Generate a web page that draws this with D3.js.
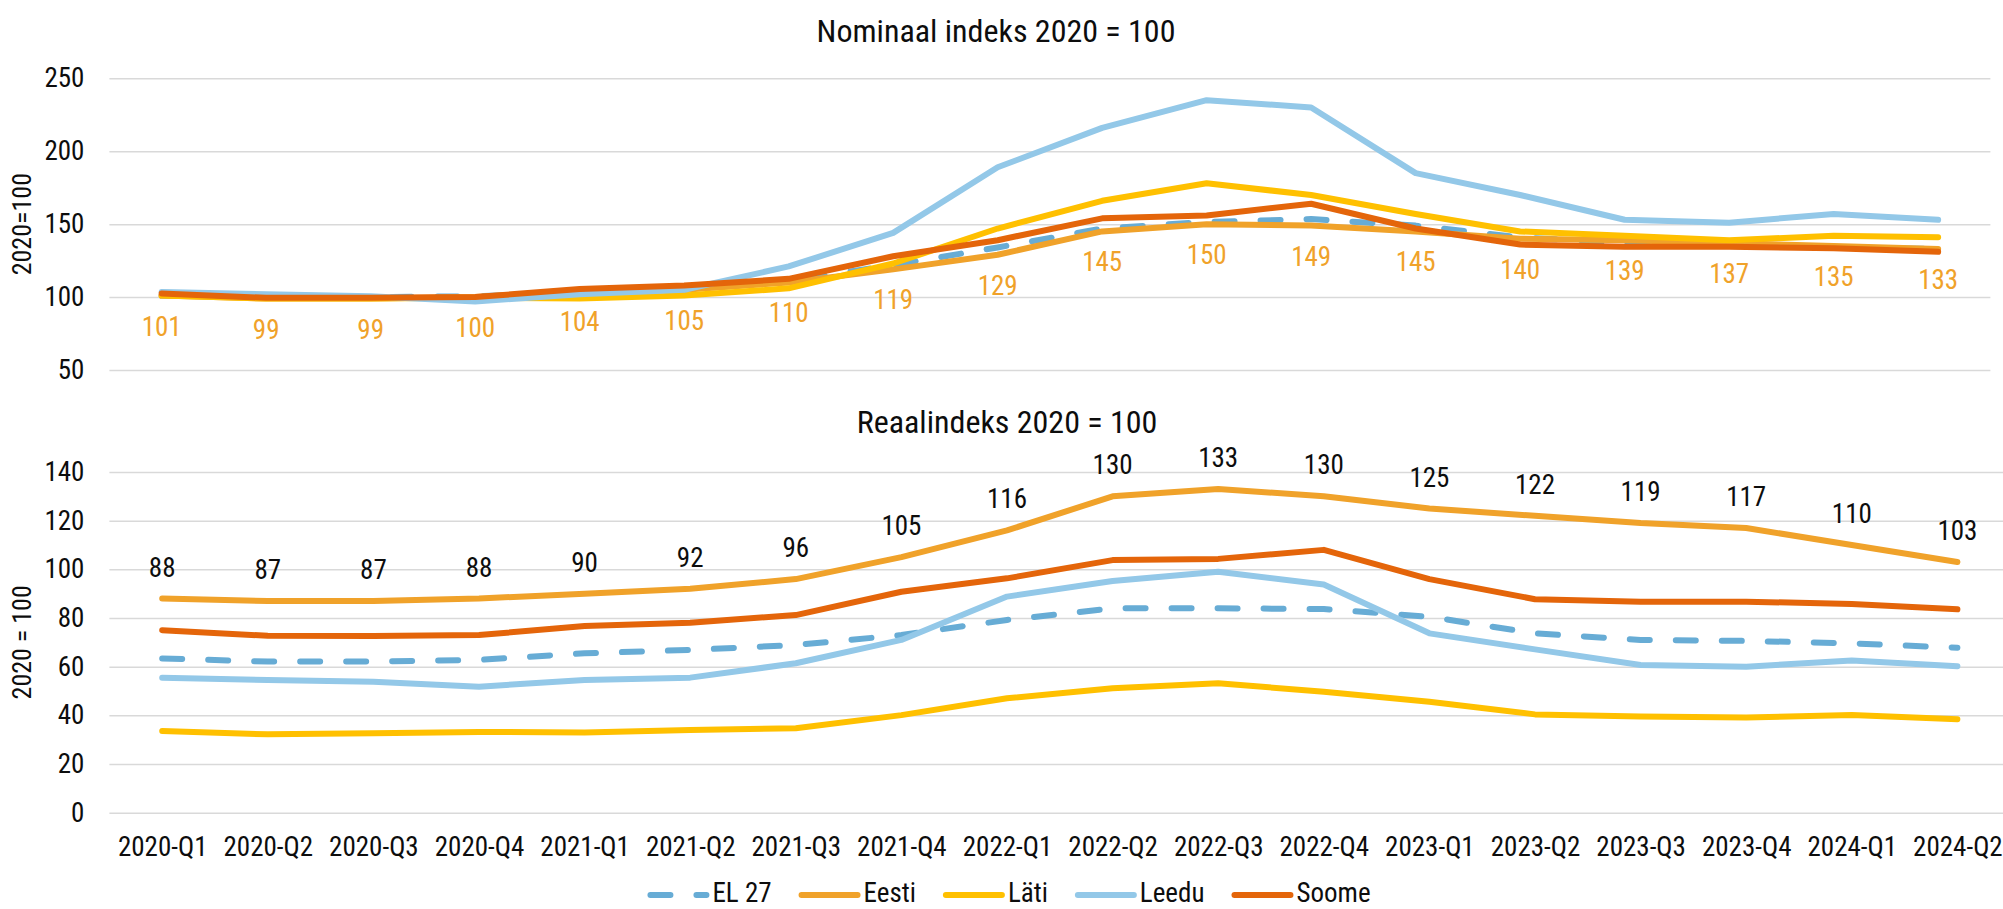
<!DOCTYPE html>
<html>
<head>
<meta charset="utf-8">
<script src="https://cdn.jsdelivr.net/npm/d3@7"></script>
<style>
  body { margin: 0; background: #fff; }
  svg text { font-family: "Roboto Condensed", "Liberation Sans Narrow", "Arial Narrow", Roboto, sans-serif; font-stretch: condensed; fill: #0d0d0d; }
  .grid line { stroke: #d9d9d9; stroke-width: 1.5; }
</style>
</head>
<body>
<div id="container"></div>
<script>
const categories = ["2020-Q1","2020-Q2","2020-Q3","2020-Q4","2021-Q1","2021-Q2","2021-Q3","2021-Q4",
  "2022-Q1","2022-Q2","2022-Q3","2022-Q4","2023-Q1","2023-Q2","2023-Q3","2023-Q4","2024-Q1","2024-Q2"];

const seriesNames = ["EL 27", "Eesti", "Läti", "Leedu", "Soome"];

const ticksNom = [50, 100, 150, 200, 250];
const ticksReal = [0, 20, 40, 60, 80, 100, 120, 140];

// Nominaal indeks 2020 = 100
const el27Nom  = [101, 100, 100, 100.5, 103, 105, 111, 122, 134, 147, 151.5, 153.5, 149, 141, 137, 135, 134, 133];
const eestiNom = [101, 99, 99, 100, 104, 105, 110, 119, 129, 145, 150, 149, 145, 140, 139, 137, 135, 133];
const latiNom  = [101, 99, 99, 99.5, 99, 101, 106, 123, 147, 166, 178, 170, 157, 145, 142, 139, 142, 141];
const leeduNom = [103.5, 102, 100.5, 97, 102, 105, 121, 144, 189, 216, 235, 230, 185, 170, 153, 151, 157, 153];
const soomeNom = [102.5, 99.5, 99.5, 100, 105.5, 108, 112.5, 128, 139, 154, 156, 164, 147, 136, 134.5, 134.5, 133.5, 131];

// Reaalindeks 2020 = 100
const el27Real  = [63.4, 62.1, 62.1, 62.8, 65.5, 66.9, 68.9, 73, 79.2, 84, 84, 83.7, 80.5, 73.7, 71, 70.6, 69.6, 67.8];
const eestiReal = [88, 87, 87, 88, 90, 92, 96, 105, 116, 130, 133, 130, 125, 122, 119, 117, 110, 103];
const latiReal  = [33.6, 32.2, 32.6, 33.2, 33, 34, 34.7, 40.1, 47, 51.1, 53.2, 49.7, 45.6, 40.4, 39.5, 39.1, 40.1, 38.4];
const leeduReal = [55.5, 54.5, 53.8, 51.8, 54.5, 55.5, 61.4, 71, 88.8, 95.2, 99, 93.8, 73.7, 67.1, 60.7, 60, 62.5, 60.2];
const soomeReal = [75, 72.7, 72.6, 73, 76.7, 78.1, 81.2, 90.8, 96.3, 103.8, 104.3, 108, 96, 87.7, 86.7, 86.7, 85.8, 83.6];

const colors = { "EL 27": "#67acd5", "Eesti": "#f0a22a", "Läti": "#ffc000", "Leedu": "#93c8e8", "Soome": "#e4650a" };
const dash = "20,26";
const fontSize = 27;

const width = 2003;
const height = 909;

const svg = d3.select("#container").append("svg")
  .attr("width", width)
  .attr("height", height);

function drawPanel(opt) {
  const x = d3.scalePoint()
    .domain(categories)
    .range([opt.left, opt.right])
    .padding(0.5);

  const y = d3.scaleLinear()
    .domain(opt.domain)
    .range([opt.bottom, opt.top]);

  // gridlines + y labels
  const yAxis = d3.axisLeft(y)
    .tickValues(opt.ticks)
    .tickSize(-(opt.right - opt.left))
    .tickPadding(25);
  svg.append("g")
    .attr("class", "grid")
    .attr("transform", `translate(${opt.left},0)`)
    .call(yAxis)
    .call(g => g.select(".domain").remove())
    .call(g => g.selectAll("text").style("font-size", fontSize + "px").attr("fill", "#0d0d0d"));

  // title
  svg.append("text")
    .attr("x", opt.titleX)
    .attr("y", opt.titleY)
    .attr("text-anchor", "middle")
    .style("font-size", "32px")
    .text(opt.title);

  // y-axis title
  svg.append("text")
    .attr("transform", `translate(31,${(opt.top + opt.bottom) / 2}) rotate(-90)`)
    .attr("text-anchor", "middle")
    .style("font-size", "26px")
    .text(opt.yTitle);

  const line = d3.line()
    .x((d, i) => x(categories[i]))
    .y(d => y(d));

  opt.series.forEach((vals, k) => {
    const name = seriesNames[k];
    svg.append("path")
      .datum(vals)
      .attr("fill", "none")
      .attr("stroke", colors[name])
      .attr("stroke-width", 6)
      .attr("stroke-linejoin", "round")
      .attr("stroke-linecap", "round")
      .attr("stroke-dasharray", name === "EL 27" ? dash : null)
      .attr("d", line);
  });

  // data labels for Eesti
  svg.append("g")
    .selectAll("text")
    .data(opt.labels)
    .join("text")
    .attr("x", (d, i) => x(categories[i]))
    .attr("y", d => y(d) + opt.labelOffset)
    .attr("text-anchor", "middle")
    .style("font-size", fontSize + "px")
    .style("fill", opt.labelColor)
    .text(d => d3.format("d")(d));

  return x;
}

drawPanel({
  left: 109.4, right: 1990.4, top: 78.3, bottom: 370,
  domain: [50, 250], ticks: ticksNom,
  title: "Nominaal indeks 2020 = 100", titleX: 996, titleY: 42,
  yTitle: "2020=100",
  series: [el27Nom, eestiNom, latiNom, leeduNom, soomeNom],
  labels: eestiNom, labelOffset: 40, labelColor: "#f0a22a"
});

const xReal = drawPanel({
  left: 109.4, right: 2010.2, top: 472, bottom: 812.7,
  domain: [0, 140], ticks: ticksReal,
  title: "Reaalindeks 2020 = 100", titleX: 1007, titleY: 433,
  yTitle: "2020 = 100",
  series: [el27Real, eestiReal, latiReal, leeduReal, soomeReal],
  labels: eestiReal, labelOffset: -22, labelColor: "#0d0d0d"
});

// category labels
svg.append("g")
  .attr("transform", "translate(0,812.7)")
  .call(d3.axisBottom(xReal).tickSize(0).tickPadding(24))
  .call(g => g.select(".domain").remove())
  .call(g => g.selectAll("text").style("font-size", fontSize + "px").attr("fill", "#0d0d0d"));

// legend
const legend = svg.append("g").attr("transform", "translate(0,895)");
const items = legend.selectAll("g")
  .data(seriesNames)
  .join("g");
items.append("line")
  .attr("x1", 3).attr("x2", 59)
  .attr("stroke", d => colors[d])
  .attr("stroke-width", 6)
  .attr("stroke-linecap", "round")
  .attr("stroke-dasharray", d => d === "EL 27" ? dash : null);
items.append("text")
  .attr("x", 65)
  .attr("y", 7)
  .style("font-size", fontSize + "px")
  .text(d => d);
const widths = [];
items.each(function () {
  widths.push(65 + this.querySelector("text").getComputedTextLength());
});
const gap = 27;
const total = d3.sum(widths) + gap * (widths.length - 1);
let offset = 1009 - total / 2;
items.attr("transform", (d, i) => {
  const tx = offset;
  offset += widths[i] + gap;
  return `translate(${tx},0)`;
});
</script>
</body>
</html>
